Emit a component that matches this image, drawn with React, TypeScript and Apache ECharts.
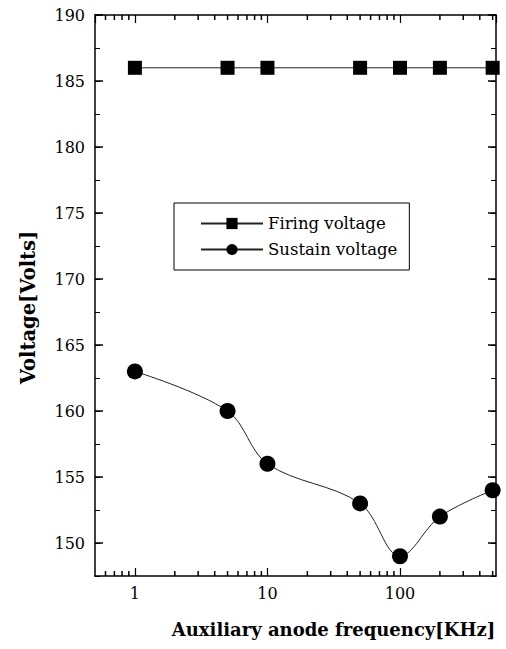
import React, { useEffect, useRef } from "react";
import * as echarts from "echarts";

const frequencies = [1, 5, 10, 50, 100, 200, 500];
const firingVoltage = [186, 186, 186, 186, 186, 186, 186];
const sustainVoltage = [163, 160, 156, 153, 149, 152, 154];
const xMajorLabels = [1, 10, 100];
const xMinorTicks = [0.6, 0.7, 0.8, 0.9, 2, 3, 4, 5, 6, 7, 8, 9, 20, 30, 40, 50, 60, 70, 80, 90, 200, 300, 400, 500];
const yMajorTicks = [150, 155, 160, 165, 170, 175, 180, 185, 190];

const FONT = "DejaVu Serif";

export default function App() {
  const ref = useRef<HTMLDivElement>(null);
  useEffect(() => {
    if (!ref.current) return;
    const chart = echarts.init(ref.current, null, { renderer: "svg" });
    const X_MIN = 0.5;
    const X_MAX = 530;
    const Y_MIN = 147.5;
    const Y_MAX = 190;

    chart.setOption({
      animation: false,
      backgroundColor: "#fff",
      grid: { left: 95, right: 10, top: 15, bottom: 73, containLabel: false },
      legend: {
        orient: "vertical",
        left: 174,
        top: 203,
        itemWidth: 62,
        itemHeight: 14,
        itemGap: 9,
        padding: [12, 12, 12, 26],
        borderColor: "#000",
        borderWidth: 1,
        textStyle: { fontFamily: FONT, fontSize: 16.5, color: "#000" },
        data: ["Firing voltage", "Sustain voltage"],
      },
      xAxis: [
        {
          type: "log",
          min: X_MIN,
          max: X_MAX,
          logBase: 10,
          name: "Auxiliary anode frequency[KHz]",
          nameLocation: "middle",
          nameGap: 44,
          nameTextStyle: { fontFamily: FONT, fontSize: 18, fontWeight: "bold", color: "#000", padding: [0, 0, 0, 76] },
          axisLine: { lineStyle: { color: "#000", width: 1.5 } },
          axisTick: { show: true, inside: true, length: 8, lineStyle: { color: "#000", width: 1.2 } },
          splitLine: { show: false },
          minorTick: { show: false },
          axisLabel: {
            fontFamily: FONT,
            fontSize: 16,
            color: "#000",
            margin: 9,
            showMinLabel: false,
            showMaxLabel: false,
            formatter: (v: number) => (xMajorLabels.some((m) => Math.abs(m - v) < 1e-9) ? String(v) : ""),
          },
        },
        {
          type: "log",
          min: X_MIN,
          max: X_MAX,
          position: "top",
          axisLine: { lineStyle: { color: "#000", width: 1.5 } },
          axisTick: { show: true, inside: true, length: 8, lineStyle: { color: "#000", width: 1.2 } },
          axisLabel: { show: false },
          splitLine: { show: false },
        },
      ],
      yAxis: [
        {
          type: "value",
          min: Y_MIN,
          max: Y_MAX,
          interval: 2.5,
          name: "Voltage[Volts]",
          nameLocation: "middle",
          nameGap: 57,
          nameTextStyle: { fontFamily: FONT, fontSize: 19.5, fontWeight: "bold", color: "#000", padding: [0, 0, 0, -24] },
          axisLine: { show: true, lineStyle: { color: "#000", width: 1.5 } },
          axisTick: { show: true, inside: true, length: 5, lineStyle: { color: "#000" } },
          splitLine: { show: false },
          axisLabel: {
            fontFamily: FONT,
            fontSize: 16,
            color: "#000",
            margin: 10,
            formatter: (v: number) => (Math.abs(v % 5) < 1e-9 ? String(v) : ""),
          },
        },
        {
          type: "value",
          min: Y_MIN,
          max: Y_MAX,
          interval: 2.5,
          position: "right",
          axisLine: { show: true, lineStyle: { color: "#000", width: 1.5 } },
          axisTick: { show: true, inside: true, length: 5, lineStyle: { color: "#000" } },
          axisLabel: { show: false },
          splitLine: { show: false },
        },
      ],
      series: [
        {
          name: "Firing voltage",
          type: "line",
          data: frequencies.map((f, i) => [f, firingVoltage[i]]),
          symbol: "rect",
          symbolSize: 14,
          itemStyle: { color: "#000" },
          lineStyle: { color: "#222", width: 1 },
          clip: false,
          z: 10,
        },
        {
          name: "Sustain voltage",
          type: "line",
          data: frequencies.map((f, i) => [f, sustainVoltage[i]]),
          symbol: "circle",
          symbolSize: 16,
          smooth: 0.35,
          itemStyle: { color: "#000" },
          lineStyle: { color: "#222", width: 1 },
          clip: false,
          z: 10,
        },
      ],
    });

    const toPx = (x: number, y: number) => chart.convertToPixel({ gridIndex: 0 } as any, [x, y]) as number[];
    const base = toPx(X_MIN, Y_MIN);
    const top = toPx(X_MAX, Y_MAX);
    if (base && top && isFinite(base[0]) && isFinite(top[0])) {
      const yb = base[1];
      const yt = top[1];
      const xl = base[0];
      const xr = top[0];
      const st = { stroke: "#000", lineWidth: 1.5 };
      const elems: any[] = [];
      xMinorTicks.forEach((v) => {
        const x = toPx(v, Y_MIN)[0];
        elems.push({ type: "line", shape: { x1: x, y1: yb, x2: x, y2: yb - 5 }, style: st, z: 50 });
        elems.push({ type: "line", shape: { x1: x, y1: yt, x2: x, y2: yt + 5 }, style: st, z: 50 });
      });
      yMajorTicks.forEach((v) => {
        const y = toPx(X_MIN, v)[1];
        elems.push({ type: "line", shape: { x1: xl, y1: y, x2: xl + 8, y2: y }, style: st, z: 50 });
        elems.push({ type: "line", shape: { x1: xr, y1: y, x2: xr - 8, y2: y }, style: st, z: 50 });
      });
      chart.setOption({ graphic: { elements: elems } });
    }

    return () => chart.dispose();
  }, []);
  return <div ref={ref} style={{ position: "absolute", left: 0, top: 0, width: 506, height: 649 }} />;
}
